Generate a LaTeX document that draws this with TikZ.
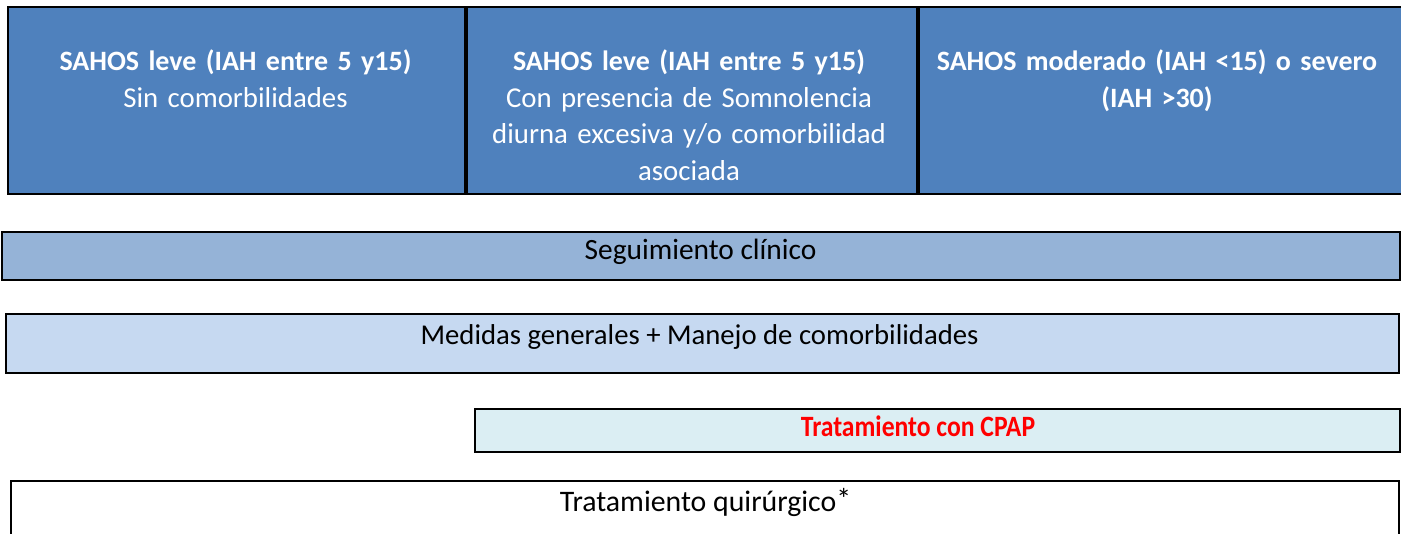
\documentclass[tikz,border=0pt]{standalone}
\usepackage{fontspec}
\usepackage{graphicx}
\setmainfont{Carlito}

\definecolor{hdrblue}{HTML}{4F81BD}
\definecolor{segblue}{HTML}{95B3D7}
\definecolor{medblue}{HTML}{C6D9F1}
\definecolor{cpapblue}{HTML}{DBEEF3}
\definecolor{cpapred}{HTML}{FF0000}

\newcommand{\tamcab}{\fontsize{14}{18.25}\selectfont\bfseries}
\newcommand{\tamtxt}{\fontsize{14.4}{18.25}\selectfont\mdseries}

\tikzset{
  caja/.style={draw=black, line width=1pt, anchor=north west, inner sep=0pt},
  rotulo/.style={anchor=base, inner sep=0pt, align=center, font=\fontsize{14}{18.25}\selectfont},
}

\begin{document}
\begin{tikzpicture}[x=0.5pt, y=-0.5pt]
\useasboundingbox (0,0) rectangle (1401,534);
\clip (0,0) rectangle (1401,534);

% header row
\node[caja, fill=hdrblue, minimum width=228.5pt, minimum height=93.5pt] (leve) at (7,6) {};
\node[caja, fill=hdrblue, minimum width=225pt, minimum height=93.5pt] (leveCom) at (leve.north east) {};
\node[caja, fill=hdrblue, minimum width=242.5pt, minimum height=93.5pt] (severo) at (leveCom.north east) {};

\node[rotulo, text=white, text width=220pt] (leveTxt) at (235.5,71)
  {\tamcab SAHOS leve (IAH entre 5 y15)\\\tamtxt Sin comorbilidades};
\node[rotulo, text=white, text width=220pt] (leveComTxt) at (689,71)
  {\tamcab SAHOS leve (IAH entre 5 y15)\\\tamtxt Con presencia de Somnolencia\\diurna excesiva y/o comorbilidad\\asociada};
\node[rotulo, text=white, text width=236pt] (severoTxt) at (1157,71)
  {\tamcab SAHOS moderado (IAH <15) o severo\\(IAH >30)};

% bars
\node[caja, fill=segblue, minimum width=699pt, minimum height=24pt] (seguim) at (1,231) {};
\node[rotulo, font=\fontsize{14.7}{18}\selectfont] (seguimTxt) at (700.5,259) {Seguimiento clínico};

\node[caja, fill=medblue, minimum width=696.5pt, minimum height=29.5pt] (medidas) at (5,313) {};
\node[rotulo, font=\fontsize{14.35}{18}\selectfont] (medidasTxt) at (699.5,344) {Medidas generales + Manejo de comorbilidades};

\node[caja, fill=cpapblue, minimum width=462.5pt, minimum height=21.5pt] (cpap) at (474,408) {};
\node[rotulo, text=cpapred, font=\fontsize{14.75}{18}\selectfont] (cpapTxt) at (918,436) {\scalebox{0.87}[1]{\bfseries Tratamiento con CPAP}};

\node[caja, fill=white, minimum width=694pt, minimum height=40pt] (quirur) at (10,480) {};
\node[rotulo, font=\fontsize{14.9}{18}\selectfont] (quirurTxt) at (705.5,511) {Tratamiento quirúrgico\raisebox{0.7pt}{*}};
\end{tikzpicture}
\end{document}
